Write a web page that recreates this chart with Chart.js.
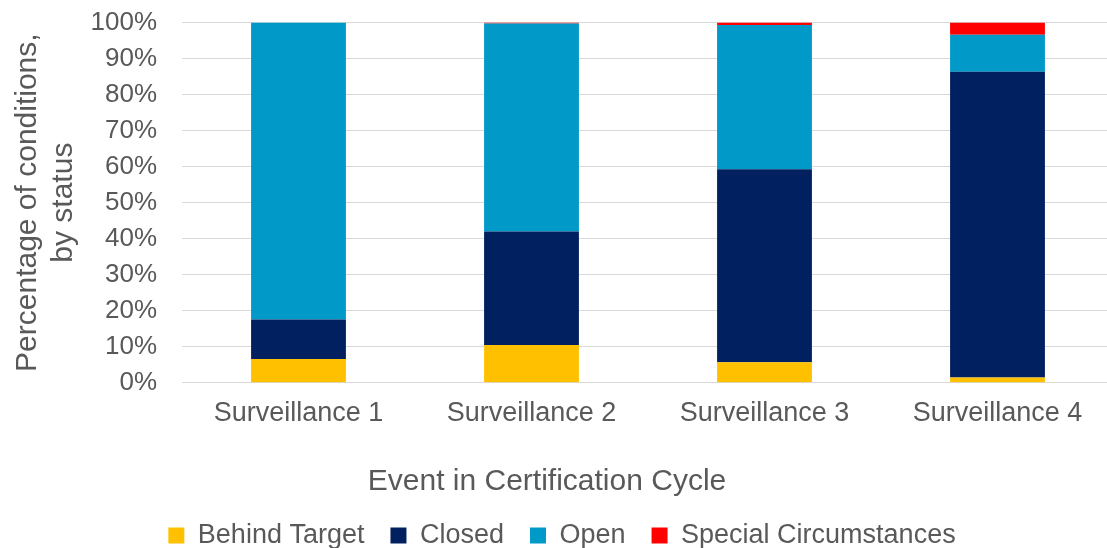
<!DOCTYPE html>
<html>
<head>
<meta charset="utf-8">
<script src="https://cdn.jsdelivr.net/npm/chart.js@4.4.1/dist/chart.umd.min.js"></script>
<style>
  html, body { margin: 0; padding: 0; background: #ffffff; overflow: hidden; }
  #wrap { position: absolute; left: 0; top: 0; width: 1115px; height: 559px; }
</style>
</head>
<body>
<div id="wrap"><canvas id="c"></canvas></div>
<script>
const categories = ['Surveillance 1', 'Surveillance 2', 'Surveillance 3', 'Surveillance 4'];
const behindTarget = [6.6, 10.5, 5.7, 1.5];
const closed = [11.0, 31.5, 53.6, 84.8];
const open = [82.4, 57.7, 40.0, 10.3];
const specialCircumstances = [0, 0.3, 0.7, 3.4];
const yTicks = [0, 10, 20, 30, 40, 50, 60, 70, 80, 90, 100];

const FONT = 'Liberation Sans, Arial, sans-serif';
const TXT = '#595959';

// Centre the x-axis title on the page (as in the reference) rather than on the plot area
const shiftTitle = {
  id: 'shiftTitle',
  afterLayout(chart) {
    const t = chart.titleBlock;
    if (t) { t.left = -20; }
  }
};

new Chart(document.getElementById('c'), {
  type: 'bar',
  data: {
    labels: categories,
    datasets: [
      { label: 'Behind Target', data: behindTarget, backgroundColor: '#FFC000' },
      { label: 'Closed', data: closed, backgroundColor: '#002060' },
      { label: 'Open', data: open, backgroundColor: '#0099C8' },
      { label: 'Special Circumstances', data: specialCircumstances, backgroundColor: '#FF0000' }
    ]
  },
  plugins: [shiftTitle],
  options: {
    responsive: true,
    maintainAspectRatio: false,
    animation: false,
    datasets: { bar: { barPercentage: 0.407, categoryPercentage: 1, borderWidth: 0 } },
    layout: { padding: { left: 10, right: 1, top: 22.5, bottom: 0 } },
    plugins: {
      tooltip: { enabled: false },
      title: {
        display: true, position: 'bottom', weight: 100,
        text: 'Event in Certification Cycle', color: TXT,
        font: { family: FONT, size: 30, weight: 'normal' },
        padding: { top: 19.6, bottom: -4 }
      },
      legend: {
        position: 'bottom',
        labels: {
          boxWidth: 16, boxHeight: 16, padding: 26,
          color: TXT,
          font: { family: FONT, size: 27 }
        }
      }
    },
    scales: {
      x: {
        stacked: true,
        grid: { display: false, drawTicks: false },
        border: { display: false },
        ticks: { color: TXT, font: { family: FONT, size: 27 }, padding: 14.6 }
      },
      y: {
        stacked: true,
        min: 0, max: 100,
        afterBuildTicks: (axis) => { axis.ticks = yTicks.map(v => ({ value: v })); },
        grid: { color: '#d9d9d9', lineWidth: 1, drawTicks: true, tickLength: 22, tickColor: 'rgba(0,0,0,0)' },
        border: { display: false },
        ticks: { color: TXT, font: { family: FONT, size: 26 }, padding: 3, autoSkip: false, callback: (v) => v + '%' },
        title: {
          display: true, text: ['Percentage of conditions,', 'by status'], color: TXT,
          font: { family: FONT, size: 30 }, padding: { top: 0, bottom: 5.5 }
        }
      }
    }
  }
});
</script>
</body>
</html>
